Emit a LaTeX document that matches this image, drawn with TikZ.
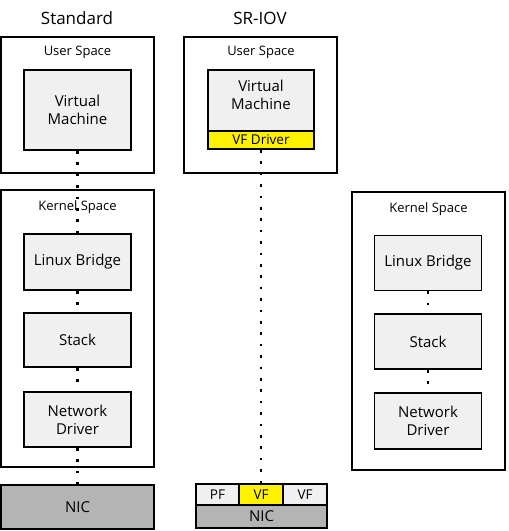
\documentclass[tikz,border=0pt]{standalone}
\usepackage{fontspec}
\setmainfont{Open Sans}
\definecolor{boxgray}{RGB}{240,240,240}
\definecolor{nicgray}{RGB}{180,180,180}
\newcommand{\bw}{153pt}
\newcommand{\iw}{107pt}

\begin{document}
\begin{tikzpicture}[x=1pt, y=-1pt,
        frame/.style={draw, line width=1.8pt, minimum width=\bw, inner sep=0pt},
        block/.style={draw, line width=1.8pt, fill=boxgray, minimum width=\iw, inner sep=0pt, align=center, font=\fontsize{15}{18}\selectfont},
        small/.style={font=\fontsize{13}{15}\selectfont},
        title/.style={font=\fontsize{17}{20}\selectfont},
        port/.style={draw, line width=1.5pt, minimum height=21pt, inner sep=0pt, font=\fontsize{13.5}{15}\selectfont},
        dots/.style={line width=2.6pt, dash pattern=on 2.6pt off 8.8pt}]

        \useasboundingbox (0, 0) rectangle (509, 531);

        % standard
        \node[title] (tstd) at (77, 18) {Standard};
        \node[frame, minimum height=136pt] (userA) at (77.5, 105) {};
        \node[small] (userAl) at (77.5, 52) {User Space};
        \node[block, minimum height=80pt] (vmA) at (77.5, 110) {Virtual\\Machine};

        \node[frame, minimum height=277pt] (kernA) at (77.5, 328.5) {};
        \node[small] (kernAl) at (77.5, 207) {Kernel Space};
        \node[block, minimum height=56pt] (lbA) at (77.5, 262) {Linux Bridge};
        \node[block, minimum height=54pt] (stA) at (77.5, 340) {Stack};
        \node[block, minimum height=55pt] (ndA) at (77.5, 419.5) {Network\\Driver};
        \node[frame, fill=nicgray, minimum height=44pt, font=\fontsize{15}{18}\selectfont] (nicA) at (77.5, 507) {NIC};

        \draw[dots] (vmA.south) -- (lbA.north);
        \draw[dots] (lbA.south) -- (stA.north);
        \draw[dots] (stA.south) -- (ndA.north);
        \draw[dots] (ndA.south) -- (nicA.north);

        % sr-iov
        \node[title] (tsr) at (260, 18) {SR-IOV};
        \node[frame, minimum height=136pt] (userB) at (260.5, 105) {};
        \node[small] (userBl) at (261, 52) {User Space};
        \node[block, minimum width=106pt, minimum height=61pt] (vmB) at (261, 100.5) {};
        \node[block, fill=none, draw=none] (vmBl) at (261, 95) {Virtual\\Machine};
        \node[block, fill=yellow, minimum width=106pt, minimum height=18pt, font=\fontsize{13.5}{15}\selectfont] (vfdrv) at (261, 140) {VF Driver};

        \node[port, fill=boxgray, minimum width=43pt] (pf) at (217.5, 494.5) {PF};
        \node[port, fill=yellow, minimum width=44pt] (vfa) at (261, 494.5) {VF};
        \node[port, fill=boxgray, minimum width=44pt] (vfb) at (305, 494.5) {VF};
        \node[port, fill=nicgray, minimum width=131pt, minimum height=23pt, font=\fontsize{15}{18}\selectfont] (nicB) at (261.5, 516.5) {NIC};

        \draw[dots] (vfdrv.south) -- (vfa.north);

        % kernel on the right
        \node[frame, minimum height=278pt] (kernC) at (428.5, 331) {};
        \node[small] (kernCl) at (428.5, 209) {Kernel Space};
        \node[block, minimum height=55pt] (lbC) at (428, 263) {Linux Bridge};
        \node[block, minimum height=55pt] (stC) at (428, 341.5) {Stack};
        \node[block, minimum height=56pt] (ndC) at (428, 421) {Network\\Driver};

        \draw[dots] (lbC.south) -- (stC.north);
        \draw[dots] (stC.south) -- (ndC.north);

    \end{tikzpicture}
\end{document}
